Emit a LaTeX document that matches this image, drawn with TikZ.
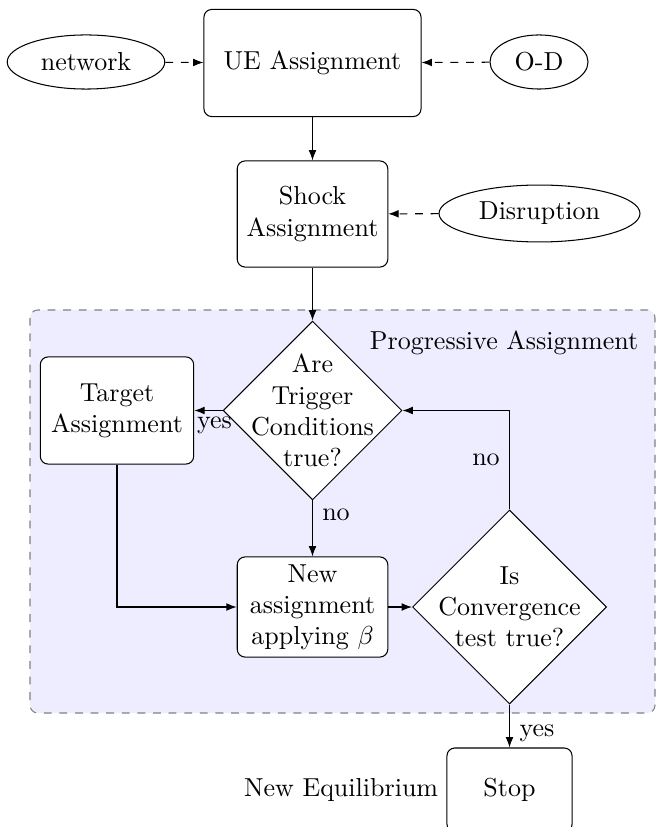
\documentclass[tikz,border=0pt]{standalone}
\usetikzlibrary{shapes.geometric,arrows.meta}
\begin{document}
\begin{tikzpicture}[x=0.3846pt,y=-0.3846pt,
  box/.style={draw,rounded corners=3pt,align=center,inner sep=0pt,fill=white},
  dec/.style={draw,diamond,inner sep=0pt,fill=white},
  ell/.style={draw,ellipse,inner sep=0pt},
  txt/.style={align=center,inner sep=0pt},
  arr/.style={-{Latex[length=4pt,width=3pt]}},
  darr/.style={arr,dashed},
  region/.style={draw=gray,dashed,fill=blue!7,rounded corners=3pt}]
\useasboundingbox (0,0) rectangle (657,827);
\draw[region] (30,310) rectangle (655,713);
\node[txt] (prog) at (504,343) {Progressive Assignment};

\node[box,minimum width=83.5pt,minimum height=41.2pt] (ue) at (312.5,63) {UE Assignment};
\node[ell,minimum width=60.6pt,minimum height=20.8pt] (net) at (86,62) {network};
\node[ell,minimum width=37.7pt,minimum height=20.8pt] (od) at (539,62) {O-D};
\node[box,minimum width=57.9pt,minimum height=40.8pt] (shock) at (312.5,214) {Shock\\Assignment};
\node[ell,minimum width=77.3pt,minimum height=21.9pt] (dis) at (539.5,213.5) {Disruption};

\node[dec,minimum width=68.8pt,minimum height=68.8pt] (trig) at (312.5,410.5) {};
\node[txt] (trigt) at (trig.center) {Are\\Trigger\\Conditions\\true?};
\node[box,minimum width=59pt,minimum height=41.2pt] (target) at (117,410.5) {Target\\Assignment};
\node[box,minimum width=57.9pt,minimum height=38.5pt] (new) at (312.5,607) {New\\assignment\\applying $\beta$};
\node[dec,minimum width=74.6pt,minimum height=74.6pt] (conv) at (509.5,607) {};
\node[txt] (convt) at (conv.center) {Is\\Convergence\\test true?};
\node[box,minimum width=48.1pt,minimum height=32.3pt] (stop) at (509.5,790) {Stop};
\node[txt,anchor=east] (neq) at ([xshift=-3pt]stop.west) {New Equilibrium};

\draw[darr] (net) -- (ue);
\draw[darr] (od) -- (ue);
\draw[darr] (dis) -- (shock);
\draw[arr] (ue) -- (shock);
\draw[arr] (shock) -- (trig);
\draw[arr] (trig) -- (target);
\draw[arr] (trig) -- (new);
\draw[arr] (target.south) |- (new.west);
\draw[arr] (new) -- (conv);
\draw[arr] (conv.north) |- (trig.east);
\draw[arr] (conv) -- (stop);

\node[txt] (lyes1) at (214.5,425) {yes};
\node[txt] (lno1) at (336,515) {no};
\node[txt] (lno2) at (486,460) {no};
\node[txt] (lyes2) at (537,733) {yes};
\end{tikzpicture}
\end{document}
